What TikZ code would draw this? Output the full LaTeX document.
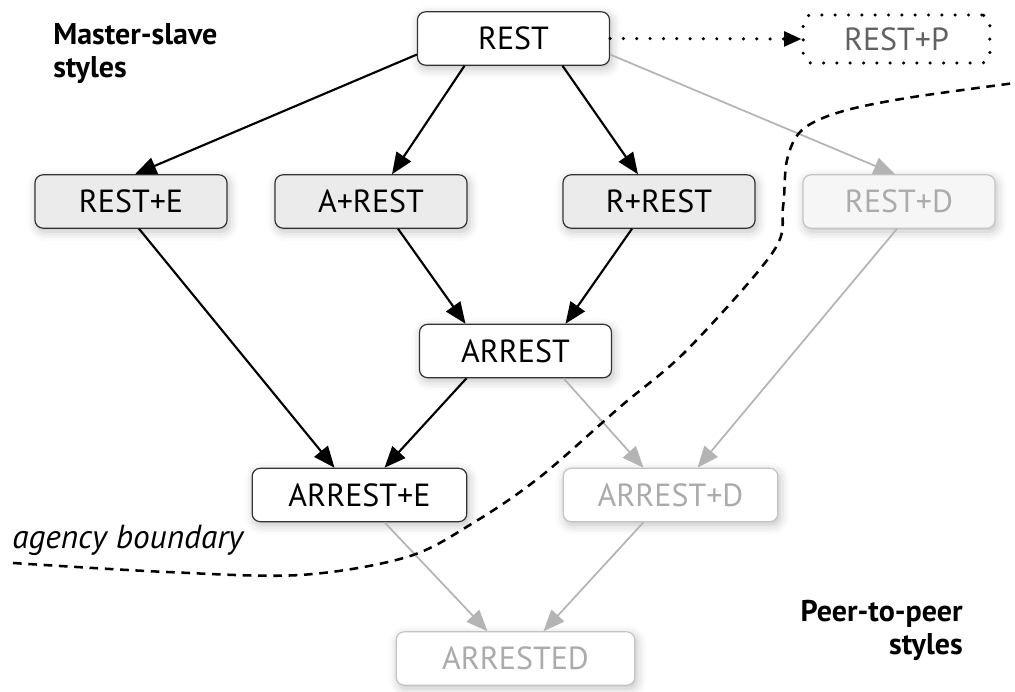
\documentclass[tikz,border=0pt]{standalone}
\usepackage{fontspec}
\setmainfont{PT Sans}
\usetikzlibrary{arrows.meta,calc,shadows.blur}
\definecolor{boxgray}{HTML}{EBEBEB}
\definecolor{edgegray}{HTML}{B4B4B4}
\definecolor{peerborder}{HTML}{C4C4C4}
\definecolor{peertext}{HTML}{ABABAB}
\definecolor{peerfill}{HTML}{F6F6F6}
\begin{document}
\begin{tikzpicture}[x=0.75pt,y=-0.75pt,
  state/.style={draw=black!80, line width=0.9pt, rounded corners=6pt,
    minimum width=144pt, minimum height=40pt, inner sep=0pt,
    font=\fontsize{24}{28}\selectfont,
    blur shadow={shadow xshift=1.5pt, shadow yshift=-2.5pt,
      shadow blur radius=7pt, shadow opacity=25}},
  master/.style={state, fill=boxgray},
  plain/.style={state, fill=white},
  peer/.style={state, draw=peerborder, text=peertext, fill=white},
  planned/.style={draw=black, line width=2.6pt, dash pattern=on 0pt off 10pt,
    line cap=round, rounded corners=6pt, minimum width=140pt,
    minimum height=36pt, inner sep=0pt, text=black!62,
    font=\fontsize{24}{28}\selectfont},
  blk/.style={draw=black, line width=1.6pt,
    -{Triangle[length=16pt,width=13pt]}},
  gry/.style={draw=edgegray, line width=1.3pt,
    -{Triangle[length=16pt,width=13pt]}},
  dotted link/.style={draw=black, line width=2.6pt, line cap=round,
    dash pattern=on 0pt off 10pt, -{Triangle[length=13pt,width=11pt]}},
  boundary/.style={draw=black, line width=1.9pt, dash pattern=on 6.5pt off 5pt},
  heading/.style={inner sep=0pt, font=\fontsize{22.5}{25}\selectfont\bfseries}
]
\useasboundingbox (0,0) rectangle (1015,692);

% states of the design space
\node[plain]  (REST)     at (513.5,38.5) {REST};
\node[planned] (RESTP)   at (896.5,39)   {REST+P};
\node[master] (RESTE)    at (131,201.5)  {REST+E};
\node[master] (AREST)    at (371,201.5)  {A+REST};
\node[master] (RREST)    at (659,201.5)  {R+REST};
\node[peer, fill=peerfill] (RESTD) at (899,201.5) {REST+D};
\node[plain]  (ARREST)   at (515.5,351)  {ARREST};
\node[plain, minimum width=161pt] (ARRESTE) at (359.5,495) {ARREST+E};
\node[peer, minimum width=161pt]  (ARRESTD) at (670.5,495) {ARREST+D};
\node[peer, minimum width=179pt]  (ARRESTED) at (515.5,658.5) {ARRESTED};

% derivations
\draw[blk] ($(REST.west)+(0,16)$) -- ($(RESTE.north)+(4,0)$);
\draw[blk] ($(REST.south)+(-49,0)$) -- ($(AREST.north)+(21,0)$);
\draw[blk] ($(REST.south)+(49,0)$) -- ($(RREST.north)+(-21,0)$);
\draw[gry] ($(REST.east)+(0,16)$) -- ($(RESTD.north)+(-4,0)$);
\draw[dotted link] (REST.east) -- (RESTP.west);
\draw[blk] ($(RESTE.south)+(8,0)$) -- ($(ARRESTE.north)+(-25,0)$);
\draw[blk] ($(AREST.south)+(27,0)$) -- ($(ARREST.north)+(-50,0)$);
\draw[blk] ($(RREST.south)+(-27,0)$) -- ($(ARREST.north)+(50,0)$);
\draw[gry] ($(RESTD.south)+(-2,0)$) -- ($(ARRESTD.north)+(27,0)$);
\draw[blk] ($(ARREST.south)+(-49,0)$) -- ($(ARRESTE.north)+(25,0)$);
\draw[gry] ($(ARREST.south)+(48,0)$) -- ($(ARRESTD.north)+(-27,0)$);
\draw[gry] ($(ARRESTE.south)+(25,0)$) -- ($(ARRESTED.north)+(-28,0)$);
\draw[gry] ($(ARRESTD.south)+(-27,0)$) -- ($(ARRESTED.north)+(28,0)$);

% agency boundary
\draw[boundary] plot[smooth, tension=0.55] coordinates {
  (13,563) (167,572) (300,575) (407,557) (473,523) (540,477) (620,407)
  (687,350) (773,252) (783,207) (787,160) (802,130) (840,112) (907,98)
  (1015,83)};

% labels
\node[heading, anchor=north west, align=left] (ms) at (53,23)
  {Master-slave\\styles};
\node[heading, anchor=north east, align=right] (pp) at (963,600)
  {Peer-to-peer\\styles};
\node[inner sep=0pt, anchor=base west,
  font=\fontsize{25}{28}\selectfont\itshape] (ab) at (12,548)
  {agency boundary};
\end{tikzpicture}
\end{document}
